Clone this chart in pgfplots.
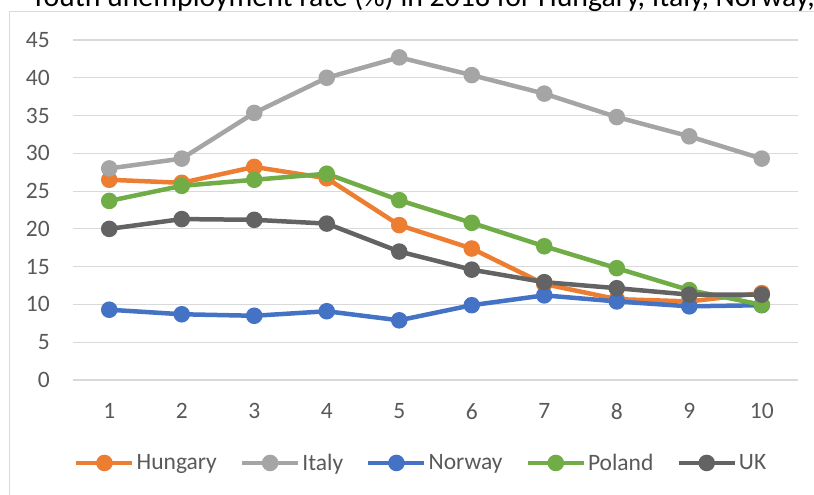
\documentclass[border=0pt]{standalone}
\usepackage{pgfplots}
\pgfplotsset{compat=1.18}
\usepackage{fontspec}
\setmainfont{Carlito}
\definecolor{cHun}{HTML}{ED7D31}
\definecolor{cIta}{HTML}{A5A5A5}
\definecolor{cNor}{HTML}{4472C4}
\definecolor{cPol}{HTML}{70AD47}
\definecolor{cUK}{HTML}{636363}
\definecolor{gridc}{HTML}{D9D9D9}
\definecolor{tickc}{HTML}{595959}
\begin{document}
\begin{tikzpicture}[x=1pt,y=1pt]
\draw[gridc, line width=1pt] (9,-20) rectangle (840,483);
\node[anchor=base west, inner sep=0pt, font=\fontsize{29.8}{32}\selectfont, text=black] at (31,488) {Youth unemployment rate (\%) in 2018 for Hungary, Italy, Norway, Poland and UK};
\begin{axis}[
  at={(73pt,115pt)}, anchor=south west,
  scale only axis, width=725pt, height=340pt,
  xmin=0.5, xmax=10.5, ymin=0, ymax=45,
  xtick={1,...,10}, ytick={0,5,...,45},
  axis line style={draw=none},
  major tick length=0pt,
  ymajorgrids, grid style={gridc, line width=1.2pt},
  /pgf/number format/assume math mode=true,
  ticklabel style={font=\fontsize{23.5}{26}\selectfont, text=tickc, inner sep=0pt},
  yticklabel style={anchor=east, xshift=-23pt},
  xticklabel style={anchor=north, yshift=-23.5pt},
  every axis plot/.append style={line width=4.5pt, mark=*, mark size=6pt, mark options={solid}},
  legend columns=5,
  legend style={at={(axis description cs:0.0014,-0.244)}, anchor=west, draw=none, fill=none, inner sep=0pt,
    font=\fontsize{23.5}{26}\selectfont, text=tickc,
    nodes={inner sep=2pt},
    /tikz/every even column/.append style={column sep=21pt}},
  legend image code/.code={\draw[mark repeat=2, mark phase=2, #1] plot coordinates {(0pt,0pt) (28pt,0pt) (56pt,0pt)};},
]
\addplot[color=cHun] coordinates {(1,26.5) (2,26.1) (3,28.2) (4,26.7) (5,20.5) (6,17.4) (7,12.7) (8,10.7) (9,10.4) (10,11.5)};
\addlegendentry{Hungary}
\addplot[color=cIta] coordinates {(1,28.0) (2,29.3) (3,35.35) (4,40.0) (5,42.7) (6,40.35) (7,37.9) (8,34.8) (9,32.25) (10,29.3)};
\addlegendentry{Italy}
\addplot[color=cNor] coordinates {(1,9.3) (2,8.7) (3,8.5) (4,9.1) (5,7.9) (6,9.9) (7,11.2) (8,10.4) (9,9.75) (10,9.9)};
\addlegendentry{Norway}
\addplot[color=cPol] coordinates {(1,23.7) (2,25.7) (3,26.5) (4,27.3) (5,23.8) (6,20.8) (7,17.7) (8,14.8) (9,11.9) (10,9.95)};
\addlegendentry{Poland}
\addplot[color=cUK] coordinates {(1,20.0) (2,21.3) (3,21.2) (4,20.7) (5,17.0) (6,14.6) (7,12.95) (8,12.15) (9,11.3) (10,11.3)};
\addlegendentry{UK}
\end{axis}
\pgfresetboundingbox
\path[use as bounding box] (0,0) rectangle (814,495);
\end{tikzpicture}
\end{document}
